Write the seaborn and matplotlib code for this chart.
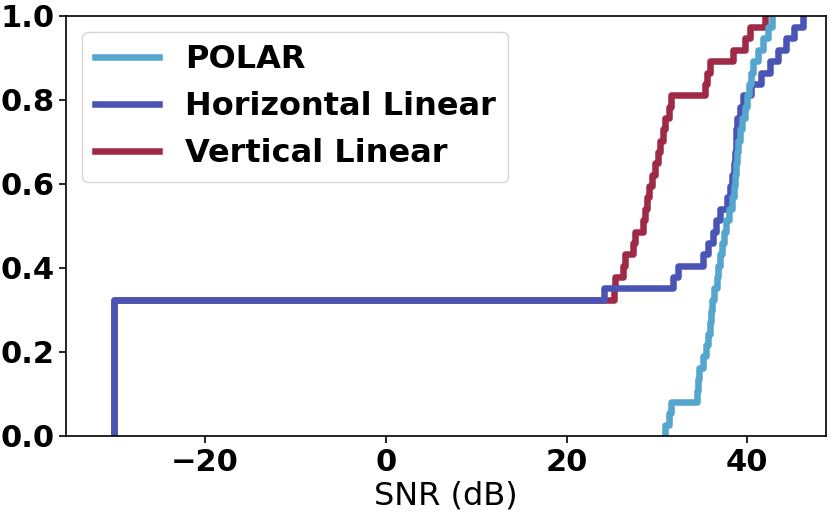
import matplotlib
matplotlib.use("Agg")
import matplotlib.pyplot as plt
import seaborn as sns
import pandas as pd
from matplotlib.lines import Line2D

# ---- data (SNR in dB, one value per sample) ----
series_names = ["POLAR", "Horizontal Linear", "Vertical Linear"]
series_colors = ["#54a6ce", "#4a54b4", "#9e2a47"]

polar_snr = [30.9, 31.3, 31.6, 34.4, 34.5, 34.6, 35.1, 35.4, 35.6,
             35.9, 36.0, 36.1, 36.3, 36.6, 36.8, 37.0, 37.2, 37.4, 37.6,
             38.0, 38.3, 38.5, 38.6, 38.8, 38.9, 39.0, 39.2, 39.4, 39.7,
             40.0, 40.2, 40.4, 40.6, 41.2, 41.7, 42.3, 42.7]

horizontal_snr = [-30.0] * 12 + [24.1, 31.8, 32.3, 35.1, 35.6, 36.2, 36.5,
                                 37.0, 37.8, 38.1, 38.3, 38.5, 38.6, 38.7,
                                 38.8, 38.9, 39.2, 39.5, 40.4, 41.5, 42.5,
                                 43.4, 44.3, 45.2, 46.1]

vertical_snr = [-30.0] * 12 + [25.2, 25.4, 26.3, 26.5, 27.4, 27.6, 28.5,
                               28.7, 28.9, 29.1, 29.4, 29.8, 30.1, 30.3,
                               30.7, 30.9, 31.3, 31.6, 35.3, 35.5, 35.9,
                               38.4, 39.7, 40.3, 41.9]

x_ticks = [-20, 0, 20, 40]
y_ticks = [0.0, 0.2, 0.4, 0.6, 0.8, 1.0]

# ---- figure ----
fig = plt.figure(figsize=(8.3, 5.19), dpi=100)
ax = fig.add_axes([0.0801, 0.160, 0.9151, 0.8097])

lw = 4.7
data_by_name = {
    "POLAR": polar_snr,
    "Horizontal Linear": horizontal_snr,
    "Vertical Linear": vertical_snr,
}
color_by_name = dict(zip(series_names, series_colors))

# draw bottom-most first so POLAR ends on top
for name in ["Vertical Linear", "Horizontal Linear", "POLAR"]:
    df = pd.DataFrame({"SNR": data_by_name[name]})
    sns.ecdfplot(data=df, x="SNR", ax=ax, color=color_by_name[name],
                 linewidth=lw, label=name)

ax.set_xlim(-35.3, 48.7)
ax.set_ylim(0, 1)
ax.set_xticks(x_ticks)
ax.set_yticks(y_ticks)
ax.set_yticklabels([f"{v:.1f}" for v in y_ticks])
ax.tick_params(labelsize=22, length=5, width=1.2)
for lab in ax.get_xticklabels() + ax.get_yticklabels():
    lab.set_fontweight("bold")

ax.set_xlabel("SNR (dB)", fontsize=23, labelpad=3)
ax.set_ylabel("")
for sp in ax.spines.values():
    sp.set_linewidth(1.2)

handles = [Line2D([0], [0], color=color_by_name[n], linewidth=lw) for n in series_names]
ax.legend(handles, series_names, loc="upper left",
          prop={"weight": "bold", "size": 23}, handlelength=2.0)

fig.savefig("out.png", dpi=100)
